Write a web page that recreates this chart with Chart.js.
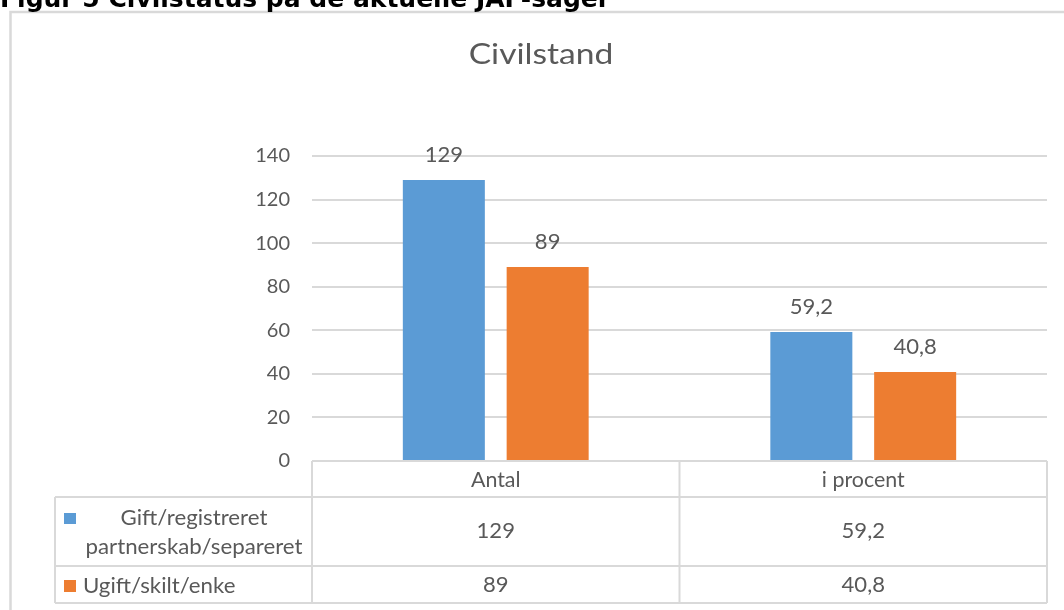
<!DOCTYPE html>
<html>
<head>
<meta charset="utf-8">
<script src="https://cdn.jsdelivr.net/npm/chart.js@4.4.1/dist/chart.umd.min.js"></script>
<style>
html,body{margin:0;padding:0;background:#fff;}
#wrap{position:relative;width:1064px;height:610px;}
canvas{display:block;}
</style>
</head>
<body>
<div id="wrap"><canvas id="c" width="1064" height="610"></canvas></div>
<script>
const caption = "Figur 5 Civilstatus på de aktuelle JAF-sager";
const chartTitle = "Civilstand";
const categories = ["Antal", "i procent"];
const seriesNames = ["Gift/registreret partnerskab/separeret", "Ugift/skilt/enke"];
const seriesLegendLines = [["Gift/registreret", "partnerskab/separeret"], ["Ugift/skilt/enke"]];
const giftValues = [129, 59.2];
const ugiftValues = [89, 40.8];
const yTicks = [0, 20, 40, 60, 80, 100, 120, 140];
const colors = ["#5B9BD5", "#ED7D31"];

const TXT = "#595959";
const FONT = "Lato, 'Open Sans', sans-serif";
const LINE = "#d9d9d9";

function fmt(v){ return String(v).replace('.', ','); }

function drawText(ctx, text, x, y, size, align, stretch){
  stretch = stretch || 1;
  ctx.save();
  ctx.font = size + "px " + FONT;
  ctx.textAlign = align;
  ctx.textBaseline = "middle";
  ctx.fillStyle = TXT;
  ctx.translate(x, y);
  ctx.scale(stretch, 1);
  ctx.fillText(text, 0, 0);
  ctx.restore();
}

const decorPlugin = {
  id: 'decor',
  beforeDraw(chart){
    const ctx = chart.ctx;
    ctx.save();
    // outer chart frame
    ctx.strokeStyle = LINE;
    ctx.lineWidth = 2.5;
    ctx.beginPath();
    ctx.moveTo(10.5, 700); ctx.lineTo(10.5, 12); ctx.lineTo(1100, 12);
    ctx.stroke();
    // caption above frame
    ctx.fillStyle = "#000";
    ctx.font = "bold 25px 'DejaVu Sans', Verdana, sans-serif";
    ctx.textAlign = "left";
    ctx.textBaseline = "alphabetic";
    ctx.fillText(caption, 0, 7);
    ctx.restore();
    // chart title
    drawText(ctx, chartTitle, 541, 55, 28, "center", 1.2);
  },
  afterDraw(chart){
    const ctx = chart.ctx;
    const xs = chart.scales.x;
    const area = chart.chartArea;
    const n = categories.length;
    const colW = (area.right - area.left) / n;
    const bounds = [];
    for (let i = 0; i <= n; i++) bounds.push(area.left + i * colW);
    const top = area.bottom;
    const hdrB = 497, r1B = 566, r2B = 603;
    const legL = 55;
    ctx.save();
    ctx.strokeStyle = LINE;
    ctx.lineWidth = 2;
    ctx.beginPath();
    ctx.moveTo(area.left, top); ctx.lineTo(area.right, top);
    ctx.moveTo(legL, hdrB); ctx.lineTo(area.right, hdrB);
    ctx.moveTo(legL, r1B); ctx.lineTo(area.right, r1B);
    ctx.moveTo(legL, r2B); ctx.lineTo(area.right, r2B);
    ctx.moveTo(legL, hdrB); ctx.lineTo(legL, r2B);
    bounds.forEach(b => { ctx.moveTo(b, top); ctx.lineTo(b, r2B); });
    ctx.stroke();
    ctx.restore();

    const rowsY = [(hdrB + r1B) / 2, (r1B + r2B) / 2 + 1];
    categories.forEach((c, i) => {
      const cx = xs.getPixelForValue(i);
      drawText(ctx, c, cx, 480, 21, "center", 1.02);
      drawText(ctx, fmt(giftValues[i]), cx, rowsY[0], 21, "center", 1.05);
      drawText(ctx, fmt(ugiftValues[i]), cx, rowsY[1], 21, "center", 1.05);
    });
    // legend keys
    ctx.save();
    ctx.fillStyle = colors[0];
    ctx.fillRect(64, 513, 12, 11);
    ctx.fillStyle = colors[1];
    ctx.fillRect(64, 580, 12, 12);
    ctx.restore();
    drawText(ctx, seriesLegendLines[0][0], 194, 518, 21, "center", 1.06);
    drawText(ctx, seriesLegendLines[0][1], 194, 547, 21, "center", 1.06);
    drawText(ctx, seriesLegendLines[1][0], 83, 586, 21, "left", 1.06);

    // data labels above bars
    chart.data.datasets.forEach((ds, di) => {
      chart.getDatasetMeta(di).data.forEach((bar, i) => {
        drawText(ctx, fmt(ds.data[i]), bar.x, bar.y - 25, 21, "center", 1.05);
      });
    });
  }
};

new Chart(document.getElementById('c'), {
  type: 'bar',
  data: {
    labels: categories,
    datasets: [
      { label: seriesNames[0], data: giftValues, backgroundColor: colors[0] },
      { label: seriesNames[1], data: ugiftValues, backgroundColor: colors[1] }
    ]
  },
  options: {
    responsive: false,
    animation: false,
    devicePixelRatio: 1,
    layout: { padding: { left: 0, right: 17, top: 156, bottom: 149 } },
    categoryPercentage: 0.565,
    barPercentage: 0.79,
    plugins: { legend: { display: false }, title: { display: false }, tooltip: { enabled: false } },
    scales: {
      x: { display: false },
      y: {
        min: 0, max: 140,
        afterBuildTicks(scale){ scale.ticks = yTicks.map(v => ({ value: v })); },
        afterFit(scale){ scale.width = 312; },
        ticks: { color: TXT, font: { size: 20, family: FONT }, padding: 22 },
        grid: { color: LINE, lineWidth: 2, drawTicks: false },
        border: { display: false }
      }
    }
  },
  plugins: [decorPlugin]
});
</script>
</body>
</html>
